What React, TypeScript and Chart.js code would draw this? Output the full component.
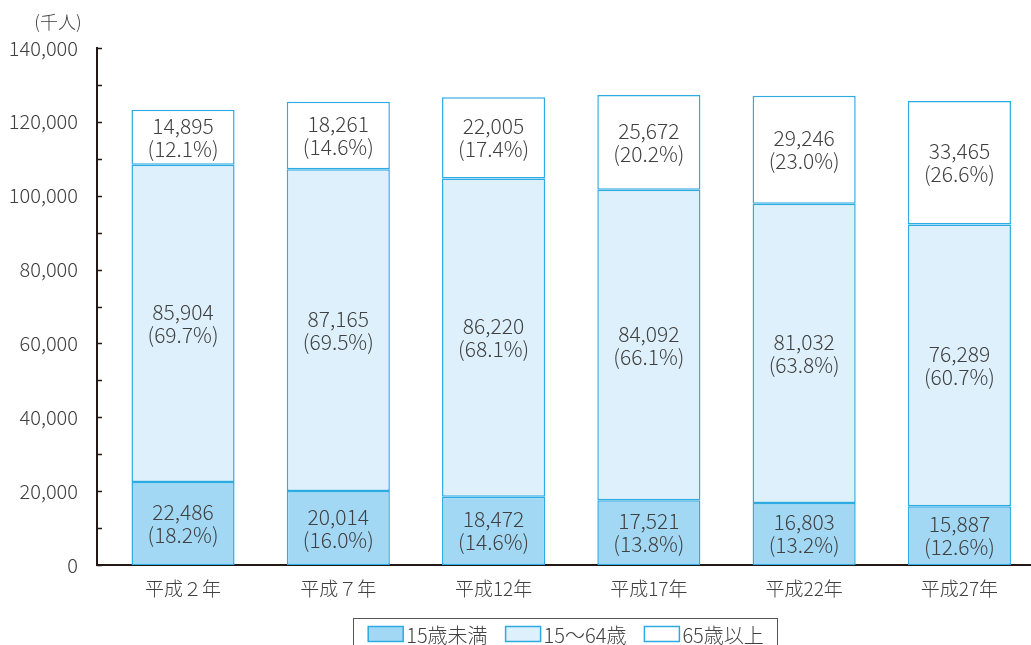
import React, { useEffect, useRef } from 'react';
import { Chart, registerables } from 'chart.js';

Chart.register(...registerables);

const categories = ['平成２年', '平成７年', '平成12年', '平成17年', '平成22年', '平成27年'];
const seriesNames = ['15歳未満', '15～64歳', '65歳以上'];
const under15 = [22486, 20014, 18472, 17521, 16803, 15887];
const age15to64 = [85904, 87165, 86220, 84092, 81032, 76289];
const over65 = [14895, 18261, 22005, 25672, 29246, 33465];
const under15Pct = ['18.2%', '16.0%', '14.6%', '13.8%', '13.2%', '12.6%'];
const age15to64Pct = ['69.7%', '69.5%', '68.1%', '66.1%', '63.8%', '60.7%'];
const over65Pct = ['12.1%', '14.6%', '17.4%', '20.2%', '23.0%', '26.6%'];
const unitLabel = '(千人)';
const yMax = 140000;
const yStep = 10000;
const yLabelStep = 20000;

const FONT = '"Noto Sans CJK JP", "Noto Sans", sans-serif';
const TEXT = '#404040';
const AXIS = '#231815';
const BORDER = '#2eabe3';
const fills = ['#a2d8f4', '#ddf0fb', '#ffffff'];

const seriesValues = [under15, age15to64, over65];
const seriesPct = [under15Pct, age15to64Pct, over65Pct];

const fmt = (v: number) => v.toLocaleString('en-US');

const overlayPlugin = {
  id: 'overlay',
  afterDatasetsDraw(chart: any) {
    const ctx = chart.ctx;
    ctx.save();
    ctx.font = `300 21px ${FONT}`;
    ctx.fillStyle = TEXT;
    ctx.textAlign = 'center';
    ctx.textBaseline = 'middle';
    chart.data.datasets.forEach((ds: any, d: number) => {
      const meta = chart.getDatasetMeta(d);
      meta.data.forEach((el: any, i: number) => {
        const p = el.getProps(['x', 'y', 'base'], true);
        const cy = (p.y + p.base) / 2;
        ctx.fillText(fmt(seriesValues[d][i]), p.x, cy - 11.5);
        ctx.fillText('(' + seriesPct[d][i] + ')', p.x, cy + 11.5);
      });
    });
    ctx.restore();
  },
  afterDraw(chart: any) {
    const ctx = chart.ctx;
    const ys = chart.scales.y;
    const area = chart.chartArea;
    ctx.save();
    ctx.strokeStyle = AXIS;
    ctx.lineWidth = 1.5;
    for (let v = 0; v <= yMax; v += yStep) {
      const py = Math.round(ys.getPixelForValue(v)) + 0.5;
      ctx.beginPath();
      ctx.moveTo(area.left, py);
      ctx.lineTo(area.left + 5, py);
      ctx.stroke();
    }
    ctx.font = `300 18px ${FONT}`;
    ctx.fillStyle = TEXT;
    ctx.textAlign = 'center';
    ctx.textBaseline = 'middle';
    ctx.fillText(unitLabel, 58, 22);

    ctx.font = `300 20px ${FONT}`;
    ctx.textAlign = 'left';
    const sw = 35, sh = 15, gapText = 3, gapItem = 18;
    const widths = seriesNames.map((n) => ctx.measureText(n).width);
    const total = widths.reduce((a, w) => a + sw + gapText + w, 0) + gapItem * (seriesNames.length - 1);
    const cx = 566;
    let x = cx - total / 2;
    const cyL = 634;
    ctx.strokeStyle = '#555555';
    ctx.lineWidth = 1;
    ctx.strokeRect(Math.round(x - 15) + 0.5, 618.5, Math.round(total + 28), 60);
    chart.data.datasets.forEach((ds: any, d: number) => {
      ctx.fillStyle = ds.backgroundColor;
      ctx.fillRect(x, cyL - sh / 2, sw, sh);
      ctx.strokeStyle = BORDER;
      ctx.lineWidth = 1.5;
      ctx.strokeRect(x, cyL - sh / 2, sw, sh);
      ctx.fillStyle = TEXT;
      ctx.fillText(seriesNames[d], x + sw + gapText, cyL + 1);
      x += sw + gapText + widths[d] + gapItem;
    });
    ctx.restore();
  },
};

export default function App() {
  const ref = useRef<HTMLCanvasElement | null>(null);
  useEffect(() => {
    if (!ref.current) return;
    const datasets = seriesNames.map((name, d) => ({
      label: name,
      data: seriesValues[d].map((v, i) => ({ x: i, y: v })),
      backgroundColor: fills[d],
      borderColor: BORDER,
      borderWidth: 1.5,
      borderSkipped: false,
      barPercentage: 0.664,
      categoryPercentage: 1,
    }));
    const chart = new Chart(ref.current, {
      type: 'bar',
      data: { datasets },
      plugins: [overlayPlugin],
      options: {
        animation: false,
        responsive: false,
        layout: { padding: { top: 48, left: 0, right: 0, bottom: 40 } },
        plugins: { legend: { display: false }, tooltip: { enabled: false } },
        scales: {
          x: {
            type: 'linear',
            stacked: true,
            offset: false,
            min: -0.554,
            max: 5.461,
            afterBuildTicks: (axis: any) => {
              axis.ticks = categories.map((_, i) => ({ value: i }));
            },
            afterFit: (axis: any) => {
              axis.height = 40;
            },
            grid: { display: false, offset: false },
            border: { display: true, color: AXIS, width: 2 },
            ticks: {
              autoSkip: false,
              maxRotation: 0,
              padding: 4,
              color: TEXT,
              font: { family: FONT, size: 19, weight: '300' },
              callback: (v: any) => categories[Number(v)] ?? '',
            },
          },
          y: {
            stacked: true,
            min: 0,
            max: yMax,
            afterFit: (axis: any) => {
              axis.width = 97;
            },
            grid: { display: false },
            border: { display: true, color: AXIS, width: 2 },
            ticks: {
              stepSize: yStep,
              padding: 11,
              color: TEXT,
              font: { family: FONT, size: 20, weight: '300' },
              callback: (v: any) => (Number(v) % yLabelStep === 0 ? fmt(Number(v)) : ''),
            },
          },
        },
      },
    });
    return () => chart.destroy();
  }, []);
  return (
    <div style={{ position: 'fixed', left: 0, top: 0, width: 1031, height: 645, background: '#fff' }}>
      <canvas ref={ref} width={1031} height={645} />
    </div>
  );
}
